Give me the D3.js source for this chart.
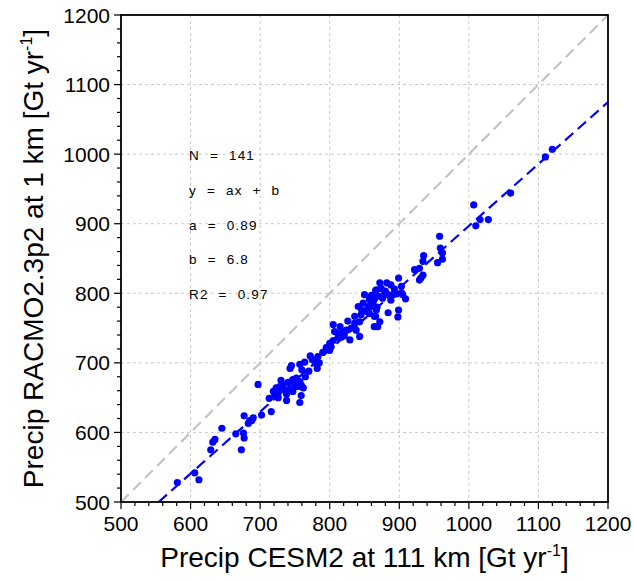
<!DOCTYPE html>
<html>
<head>
<meta charset="utf-8">
<script src="https://cdn.jsdelivr.net/npm/d3@7"></script>
<style>
  body { margin: 0; background: #fff; }
  text { font-family: "Liberation Sans", Arial, sans-serif; }
</style>
</head>
<body>
<svg id="svg" width="634" height="581"></svg>
<script>
// CESM2 (x) vs RACMO2.3p2 (y) precipitation, Gt/yr
var cesm = [581, 606, 612, 629, 632, 635, 645, 665, 676, 677, 673, 683, 688, 677, 690, 685, 702, 716, 697, 713,
  719, 723, 728, 733, 726, 738, 735, 747, 752, 757, 759, 762, 747, 759, 757, 745, 743, 757, 764, 772,
  779, 782, 783, 754, 721, 850, 857, 866, 855, 841, 845, 853, 857, 836, 864, 843, 831, 838, 824, 819,
  805, 807, 812, 817, 821, 800, 802, 829, 843, 864, 867, 958, 959, 962, 955, 962, 935, 934, 922, 929,
  934, 929, 931, 899, 903, 882, 888, 867, 874, 879, 876, 884, 891, 896, 903, 905, 909, 864, 862, 868,
  866, 872, 869, 884, 899, 898, 1007, 1010, 1016, 1028, 1060, 1110, 1120,
  770, 775, 790, 795, 785, 760, 750, 745, 740, 765, 730, 738, 726, 812, 826, 836, 848, 860, 870, 880,
  888, 893, 872, 858, 846, 815, 805, 800];
var racmo = [528, 542, 532, 575, 586, 590, 606, 598, 599, 592, 575, 613, 617, 624, 621, 617, 625, 630, 669, 649,
  659, 664, 666, 668, 657, 646, 661, 676, 678, 673, 668, 664, 659, 653, 643, 696, 692, 698, 701, 710,
  700, 692, 709, 666, 652, 798, 791, 804, 781, 781, 769, 774, 771, 767, 767, 759, 750, 747, 747, 745,
  755, 745, 736, 737, 739, 728, 723, 733, 738, 752, 776, 882, 865, 858, 844, 849, 854, 846, 834, 836,
  826, 819, 822, 822, 810, 815, 812, 805, 807, 800, 793, 798, 798, 799, 801, 798, 792, 791, 786, 780,
  767, 759, 752, 772, 776, 766, 927, 897, 906, 906, 944, 996, 1007,
  688, 705, 715, 722, 700, 690, 668, 662, 672, 680, 675, 655, 650, 742, 760, 757, 786, 797, 796, 803,
  790, 806, 815, 780, 776, 752, 732, 718];
var ticks = [500, 600, 700, 800, 900, 1000, 1100, 1200];
var stats = ["N = 141", "y = ax + b", "a = 0.89", "b = 6.8", "R2 = 0.97"];
var slope = 0.89, intercept = 6.8;

var svg = d3.select("#svg"),
  pl = 121, pt = 15, size = 487,
  x = d3.scaleLinear().domain([500, 1200]).range([pl, pl + size]),
  y = d3.scaleLinear().domain([500, 1200]).range([pt + size, pt]);

var pts = cesm.map(function (d, i) { return [d, racmo[i]]; });

// grid
var minor = d3.range(500, 1201, 20);
svg.append("g").selectAll("line").data(ticks.slice(1, -1)).join("line")
  .attr("x1", function (d) { return x(d); }).attr("x2", function (d) { return x(d); })
  .attr("y1", pt).attr("y2", pt + size)
  .attr("stroke", "#c8c8c8").attr("stroke-dasharray", "3,3");
svg.append("g").selectAll("line").data(ticks.slice(1, -1)).join("line")
  .attr("y1", function (d) { return y(d); }).attr("y2", function (d) { return y(d); })
  .attr("x1", pl).attr("x2", pl + size)
  .attr("stroke", "#c8c8c8").attr("stroke-dasharray", "3,3");

// clip
svg.append("clipPath").attr("id", "clip").append("rect")
  .attr("x", pl).attr("y", pt).attr("width", size).attr("height", size);

// 1:1 line
svg.append("line")
  .attr("x1", x(500)).attr("y1", y(500)).attr("x2", x(1200)).attr("y2", y(1200))
  .attr("stroke", "#c4c4c4").attr("stroke-width", 2.2).attr("stroke-dasharray", "11,6");

// regression line
var x0 = (500 - intercept) / slope;
svg.append("line")
  .attr("clip-path", "url(#clip)")
  .attr("x1", x(x0)).attr("y1", y(slope * x0 + intercept))
  .attr("x2", x(1200)).attr("y2", y(slope * 1200 + intercept))
  .attr("stroke", "#0000ff").attr("stroke-width", 2.2).attr("stroke-dasharray", "11,6");

// points
svg.append("g").selectAll("circle").data(pts).join("circle")
  .attr("cx", function (d) { return x(d[0]); })
  .attr("cy", function (d) { return y(d[1]); })
  .attr("r", 3.6)
  .attr("fill", "#0000ff");

// axes
var xAxis = svg.append("g").attr("transform", "translate(0," + (pt + size) + ")");
xAxis.selectAll("line.minor").data(minor).join("line").attr("class", "minor")
  .attr("x1", function (d) { return x(d); }).attr("x2", function (d) { return x(d); })
  .attr("y1", 0).attr("y2", function (d) { return d % 100 ? 4 : 7; })
  .attr("stroke", "#000").attr("stroke-width", 1.2);
xAxis.selectAll("text").data(ticks).join("text")
  .attr("x", function (d) { return x(d); }).attr("y", 29)
  .attr("text-anchor", "middle").attr("font-size", 21).text(function (d) { return d; });

var yAxis = svg.append("g").attr("transform", "translate(" + pl + ",0)");
yAxis.selectAll("line.minor").data(minor).join("line").attr("class", "minor")
  .attr("y1", function (d) { return y(d); }).attr("y2", function (d) { return y(d); })
  .attr("x1", 0).attr("x2", function (d) { return d % 100 ? -4 : -7; })
  .attr("stroke", "#000").attr("stroke-width", 1.2);
yAxis.selectAll("text").data(ticks).join("text")
  .attr("x", -11).attr("y", function (d) { return y(d) + 7.5; })
  .attr("text-anchor", "end").attr("font-size", 21).text(function (d) { return d; });

// frame
svg.append("rect").attr("x", pl).attr("y", pt).attr("width", size).attr("height", size)
  .attr("fill", "none").attr("stroke", "#000").attr("stroke-width", 1.8);

// stats text
svg.append("g").selectAll("text").data(stats).join("text")
  .attr("x", 189).attr("y", function (d, i) { return 160 + i * 34.75; })
  .attr("font-size", 13.5).attr("letter-spacing", 1.2).attr("word-spacing", 5)
  .text(function (d) { return d; });

// axis titles
var xt = svg.append("text").attr("x", pl + size / 2).attr("y", 567)
  .attr("text-anchor", "middle").attr("font-size", 28);
xt.append("tspan").text("Precip CESM2 at 111 km [Gt yr");
xt.append("tspan").attr("dy", -11).attr("font-size", 16).text("-1");
xt.append("tspan").attr("dy", 11).text("]");

var yt = svg.append("text")
  .attr("transform", "translate(43," + (pt + size / 2) + ") rotate(-90)")
  .attr("text-anchor", "middle").attr("font-size", 28);
yt.append("tspan").text("Precip RACMO2.3p2 at 1 km [Gt yr");
yt.append("tspan").attr("dy", -11).attr("font-size", 16).text("-1");
yt.append("tspan").attr("dy", 11).text("]");
</script>
</body>
</html>
